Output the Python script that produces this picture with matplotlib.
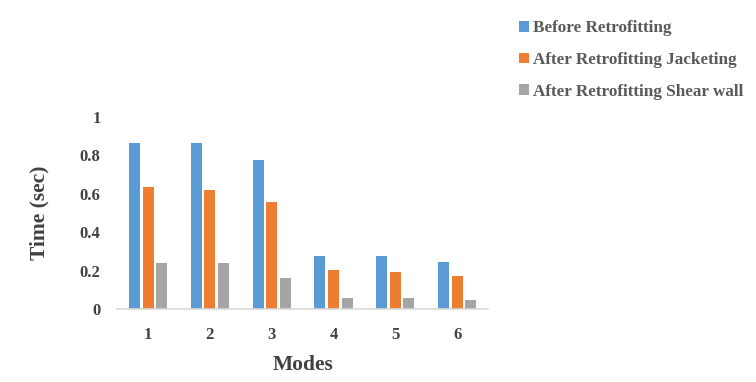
import numpy as np
import matplotlib.pyplot as plt
from matplotlib.patches import Patch

# Values
modes = ['1', '2', '3', '4', '5', '6']
before = [0.863, 0.863, 0.776, 0.274, 0.274, 0.245]
jacketing = [0.637, 0.620, 0.559, 0.205, 0.192, 0.172]
shear_wall = [0.242, 0.242, 0.162, 0.057, 0.057, 0.046]

series_names = ['Before Retrofitting',
                'After Retrofitting Jacketing',
                'After Retrofitting Shear wall']
colors = ['#5B9BD5', '#ED7D31', '#A5A5A5']
text_color = '#404040'

plt.rcParams['font.family'] = ['Liberation Serif', 'DejaVu Serif']
plt.rcParams['font.weight'] = 'bold'

fig = plt.figure(figsize=(7.56, 3.82), dpi=100)
ax = fig.add_axes([0.155, 0.191, 0.4905, 0.503])

x = np.arange(len(modes))
step = 0.219
width = 0.178
for i, (vals, c) in enumerate(zip([before, jacketing, shear_wall], colors)):
    ax.bar(x + (i - 1) * step, vals, width=width, color=c)

ax.set_xlim(-0.5, len(modes) - 0.5)
ax.set_ylim(0, 1)
ax.set_yticks([0, 0.2, 0.4, 0.6, 0.8, 1])
ax.set_yticklabels(['0', '0.2', '0.4', '0.6', '0.8', '1'])
ax.set_xticks(x)
ax.set_xticklabels(modes)

for s in ['top', 'right', 'left']:
    ax.spines[s].set_visible(False)
ax.spines['bottom'].set_color('#D9D9D9')
ax.spines['bottom'].set_linewidth(1.2)

ax.tick_params(axis='both', length=0, labelsize=12, labelcolor=text_color)
ax.tick_params(axis='x', pad=13)
ax.tick_params(axis='y', pad=12)

ax.set_xlabel('Modes', fontsize=15.5, fontweight='bold', color=text_color, labelpad=8.5)
ax.set_ylabel('Time (sec)', fontsize=15.5, fontweight='bold', color=text_color, labelpad=22)

handles = [Patch(facecolor=c, edgecolor='none') for c in colors]
leg = fig.legend(handles, series_names, loc='upper left',
                 bbox_to_anchor=(0.686, 0.947), frameon=False,
                 prop={'size': 12.3, 'weight': 'bold'},
                 handlelength=0.6, handleheight=0.6, handletextpad=0.25,
                 labelspacing=0.92, borderpad=0, borderaxespad=0)
for t in leg.get_texts():
    t.set_color('#595959')

fig.savefig('out.png', dpi=100)
